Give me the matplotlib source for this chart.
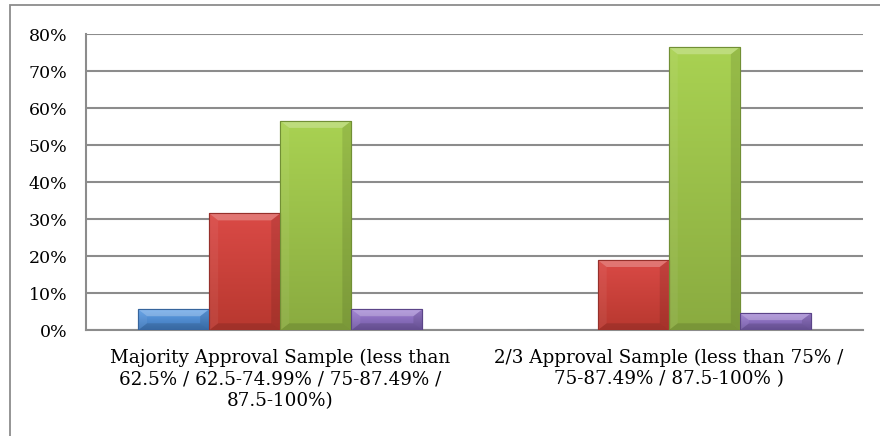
import numpy as np
import matplotlib
matplotlib.use("Agg")
import matplotlib.pyplot as plt
from matplotlib.patches import Rectangle, Polygon
from matplotlib.colors import LinearSegmentedColormap
from matplotlib.ticker import FuncFormatter

categories = [
    "Majority Approval Sample (less than\n62.5% / 62.5-74.99% / 75-87.49% /\n87.5-100%)",
    "2/3 Approval Sample (less than 75% /\n75-87.49% / 87.5-100% )",
]
series_blue = [5.7, 0.0]
series_red = [31.6, 19.0]
series_green = [56.6, 76.5]
series_purple = [5.7, 4.6]
yticks = [0, 10, 20, 30, 40, 50, 60, 70, 80]

series = [series_blue, series_red, series_green, series_purple]
# (top, bottom) colours for each series
palette = [
    ("#62a3ea", "#3f76b8"),
    ("#da4a46", "#b8382f"),
    ("#a9d252", "#8aab40"),
    ("#a283d6", "#7259a4"),
]
edge_cols = ["#36649c", "#96302b", "#718f35", "#5b4488"]

plt.rcParams["font.family"] = ["DejaVu Serif"]

fig = plt.figure(figsize=(8.8, 4.36), dpi=100)
W, H = 880, 436
ax = fig.add_axes([86 / W, (H - 330.3) / H, (863 - 86) / W, (330.3 - 34.3) / H])

n = len(series)
bw = 0.183
x = np.arange(len(categories))
ax.set_xlim(-0.5, len(categories) - 0.5)
ax.set_ylim(0, 80)

grid_col = "#8c8c8c"
ax.set_yticks(yticks)
ax.grid(axis="y", color=grid_col, linewidth=1.5, zorder=0)
ax.set_axisbelow(True)
for s in ["top", "right"]:
    ax.spines[s].set_visible(False)
ax.spines["left"].set_color(grid_col)
ax.spines["bottom"].set_color(grid_col)
ax.spines["left"].set_linewidth(1.5)
ax.spines["bottom"].set_linewidth(1.5)
ax.tick_params(axis="both", length=0)
ax.tick_params(axis="y", pad=13.5, labelsize=12.5)
ax.yaxis.set_major_formatter(FuncFormatter(lambda v, p: f"{int(v)}%"))
ax.set_xticks(x)
ax.set_xticklabels(categories, fontsize=13.2, linespacing=1.27)
ax.tick_params(axis="x", pad=13)

# pixel -> data scale
px_x = (len(categories)) / (863 - 86)
px_y = 80 / (330.3 - 34.3)
bvx = 9 * px_x
bvy = 7 * px_y

for i, vals in enumerate(series):
    offs = (i - (n - 1) / 2) * bw
    bars = ax.bar(x + offs, vals, width=bw, color=palette[i][0], edgecolor=edge_cols[i],
                  linewidth=0.8, zorder=3)
    cmap = LinearSegmentedColormap.from_list("g%d" % i, [palette[i][1], palette[i][0]])
    for b in bars:
        h = b.get_height()
        if h <= 0:
            continue
        x0 = b.get_x()
        x1 = x0 + b.get_width()
        grad = np.linspace(0, 1, 256).reshape(-1, 1)
        im = ax.imshow(grad, extent=(x0, x1, 0, h), origin="lower", aspect="auto",
                       cmap=cmap, zorder=3.1)
        im.set_clip_path(b)
        by = min(bvy, h / 2.5)
        # top bevel (lighter)
        ax.add_patch(Polygon([(x0, h), (x1, h), (x1 - bvx, h - by), (x0 + bvx, h - by)],
                             closed=True, facecolor="white", alpha=0.25, lw=0, zorder=3.2))
        # left bevel (slightly lighter)
        ax.add_patch(Polygon([(x0, h), (x0 + bvx, h - by), (x0 + bvx, by), (x0, 0)],
                             closed=True, facecolor="white", alpha=0.06, lw=0, zorder=3.2))
        # right bevel (darker)
        ax.add_patch(Polygon([(x1, h), (x1 - bvx, h - by), (x1 - bvx, by), (x1, 0)],
                             closed=True, facecolor="black", alpha=0.1, lw=0, zorder=3.2))
        # bottom bevel (darker)
        ax.add_patch(Polygon([(x0, 0), (x1, 0), (x1 - bvx, by), (x0 + bvx, by)],
                             closed=True, facecolor="black", alpha=0.12, lw=0, zorder=3.2))
        ax.add_patch(Rectangle((x0, 0), x1 - x0, h, fill=False, edgecolor=edge_cols[i],
                               lw=0.8, zorder=3.3))

# outer chart frame (partially visible)
fig.add_artist(Rectangle((10 / W, -0.05), 1.0, (H - 5) / H + 0.05, transform=fig.transFigure,
                         fill=False, edgecolor="#8c8c8c", linewidth=1.3, clip_on=False))

fig.savefig("out.png", dpi=100)
